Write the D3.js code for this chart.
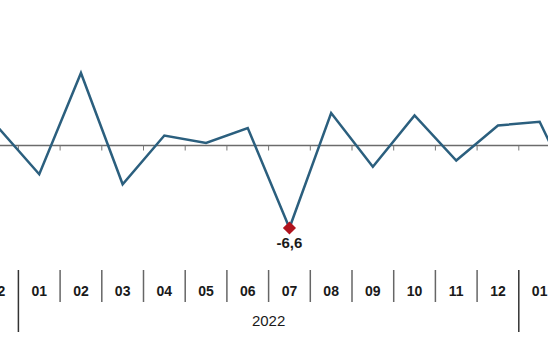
<!DOCTYPE html>
<html lang="en">
<head>
  <meta charset="UTF-8">
  <title>Monthly change</title>
  <script src="https://d3js.org/d3.v7.min.js"></script>
  <style>
    body { margin: 0; background: #fff; }
    svg { display: block; font-family: "Liberation Sans", Arial, sans-serif; }
  </style>
</head>
<body>
  <svg id="chart" width="548" height="352"></svg>

  <script>
    // Dec 2021 .. Feb 2023
    const months = ["12", "01", "02", "03", "04", "05", "06", "07", "08", "09", "10", "11", "12", "01", "02"];
    const values = [1.5, -2.3, 5.8, -3.1, 0.8, 0.2, 1.4, -6.6, 2.6, -1.7, 2.4, -1.2, 1.6, 1.9, -5.0];
    const years = [{ label: "2022", from: 1, to: 12 }];
    const yearBreaks = [1, 13];
    const highlight = 7;

    const svg = d3.select("#chart");
    const idx = d3.range(months.length);

    const x = d3.scaleBand().domain(idx).range([-23.3, 602.2]);
    const y = d3.scaleLinear().domain([-10, 10]).range([270.5, 20.5]);
    const cx = i => x(i) + x.bandwidth() / 2;

    // zero line
    svg.append("line")
      .attr("x1", 0).attr("x2", 548)
      .attr("y1", y(0)).attr("y2", y(0))
      .attr("stroke", "#6b6b6b")
      .attr("stroke-width", 1.5);

    // small ticks at month boundaries
    svg.selectAll(".tick")
      .data(idx)
      .join("line")
      .attr("class", "tick")
      .attr("x1", d => x(d)).attr("x2", d => x(d))
      .attr("y1", y(0)).attr("y2", y(0) + 5)
      .attr("stroke", "#777")
      .attr("stroke-width", 1);

    const line = d3.line()
      .x((d, i) => cx(i))
      .y(d => y(d));

    svg.append("path")
      .datum(values)
      .attr("fill", "none")
      .attr("stroke", "#2b5f7e")
      .attr("stroke-width", 2.5)
      .attr("stroke-linejoin", "miter")
      .attr("d", line);

    // minimum marker
    svg.append("path")
      .attr("d", d3.symbol(d3.symbolDiamond2, 110)())
      .attr("transform", `translate(${cx(highlight)},${y(values[highlight])})`)
      .attr("fill", "#b0141e");

    svg.append("text")
      .attr("x", cx(highlight))
      .attr("y", y(values[highlight]) + 20)
      .attr("text-anchor", "middle")
      .attr("font-size", 15)
      .attr("font-weight", "bold")
      .attr("fill", "#1a1a1a")
      .text(d3.format(".1f")(values[highlight]).replace("−", "-").replace(".", ","));

    // category axis
    svg.selectAll(".sep")
      .data(idx)
      .join("line")
      .attr("class", "sep")
      .attr("x1", d => x(d)).attr("x2", d => x(d))
      .attr("y1", 270)
      .attr("y2", d => yearBreaks.includes(d) ? 332 : 302)
      .attr("stroke", d => yearBreaks.includes(d) ? "#333" : "#666")
      .attr("stroke-width", 1.5);

    svg.selectAll(".month")
      .data(months)
      .join("text")
      .attr("class", "month")
      .attr("x", (d, i) => cx(i))
      .attr("y", 296)
      .attr("text-anchor", "middle")
      .attr("font-size", 14)
      .attr("font-weight", "bold")
      .attr("fill", "#1a1a1a")
      .text(d => d);

    svg.selectAll(".year")
      .data(years)
      .join("text")
      .attr("class", "year")
      .attr("x", d => (x(d.from) + x(d.to) + x.bandwidth()) / 2)
      .attr("y", 326)
      .attr("text-anchor", "middle")
      .attr("font-size", 15)
      .attr("fill", "#1a1a1a")
      .text(d => d.label);
  </script>
</body>
</html>
